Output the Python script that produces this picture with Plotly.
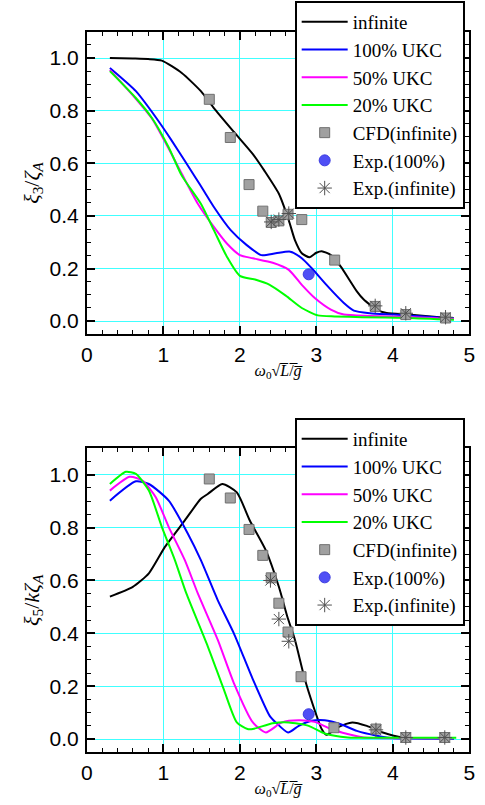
import plotly.graph_objects as go

# ---------------- data: heave (top) ----------------
heave_inf_x = [0.3, 0.6, 0.8, 0.98, 1.24, 1.49, 1.66, 1.92, 2.17, 2.32, 2.51, 2.64, 2.72, 2.81, 2.91, 3.0, 3.07, 3.19, 3.32, 3.53, 3.62, 3.79, 3.92, 4.2, 4.5, 4.8]
heave_inf_y = [1.0, 0.998, 0.996, 0.99, 0.943, 0.874, 0.81, 0.72, 0.635, 0.572, 0.484, 0.383, 0.308, 0.258, 0.243, 0.26, 0.266, 0.251, 0.207, 0.113, 0.082, 0.044, 0.031, 0.025, 0.018, 0.01]
heave_100_x = [0.3, 0.64, 0.9, 1.1, 1.3, 1.41, 1.54, 1.66, 1.88, 2.09, 2.28, 2.47, 2.66, 2.81, 2.94, 3.15, 3.36, 3.49, 3.7, 4.0, 4.4, 4.8]
heave_100_y = [0.962, 0.874, 0.775, 0.69, 0.6, 0.55, 0.49, 0.434, 0.346, 0.289, 0.251, 0.258, 0.264, 0.239, 0.201, 0.132, 0.069, 0.04, 0.03, 0.025, 0.018, 0.01]
heave_50_x = [0.3, 0.64, 0.85, 1.07, 1.24, 1.45, 1.66, 1.83, 2.0, 2.17, 2.43, 2.64, 2.81, 2.98, 3.19, 3.36, 3.7, 4.2, 4.8]
heave_50_y = [0.955, 0.845, 0.77, 0.655, 0.56, 0.446, 0.358, 0.295, 0.251, 0.239, 0.222, 0.195, 0.138, 0.088, 0.044, 0.025, 0.02, 0.016, 0.008]
heave_20_x = [0.3, 0.64, 0.85, 1.07, 1.24, 1.49, 1.66, 1.83, 2.0, 2.21, 2.39, 2.6, 2.81, 3.02, 3.24, 3.6, 4.2, 4.8]
heave_20_y = [0.95, 0.848, 0.772, 0.66, 0.553, 0.446, 0.346, 0.245, 0.172, 0.157, 0.138, 0.097, 0.05, 0.022, 0.018, 0.015, 0.012, 0.005]
heave_cfd_x = [1.6, 1.875, 2.12, 2.3, 2.41, 2.51, 2.63, 2.81, 3.24, 3.77, 4.17, 4.69]
heave_cfd_y = [0.843, 0.698, 0.519, 0.418, 0.375, 0.381, 0.406, 0.386, 0.232, 0.056, 0.025, 0.012]
heave_exp100_x = [2.9]
heave_exp100_y = [0.178]
heave_expinf_x = [2.41, 2.51, 2.64, 3.77, 4.17, 4.69]
heave_expinf_y = [0.377, 0.386, 0.409, 0.058, 0.03, 0.015]

# ---------------- data: pitch (bottom) ----------------
pitch_inf_x = [0.3, 0.6, 0.81, 1.02, 1.28, 1.49, 1.58, 1.77, 1.96, 2.13, 2.34, 2.51, 2.62, 2.72, 2.85, 2.96, 3.07, 3.13, 3.28, 3.47, 3.66, 3.87, 4.13, 4.5, 4.8]
pitch_inf_y = [0.539, 0.576, 0.627, 0.727, 0.827, 0.909, 0.927, 0.965, 0.933, 0.827, 0.714, 0.576, 0.464, 0.376, 0.226, 0.125, 0.038, 0.016, 0.044, 0.063, 0.05, 0.025, 0.006, 0.003, 0.002]
pitch_100_x = [0.3, 0.64, 0.81, 1.07, 1.32, 1.49, 1.71, 1.92, 2.17, 2.39, 2.47, 2.63, 2.77, 2.94, 3.11, 3.32, 3.53, 3.79, 4.03, 4.4, 4.8]
pitch_100_y = [0.902, 0.975, 0.965, 0.902, 0.777, 0.677, 0.526, 0.401, 0.226, 0.088, 0.063, 0.025, 0.05, 0.069, 0.071, 0.056, 0.031, 0.013, 0.003, 0.002, 0.002]
pitch_50_x = [0.3, 0.56, 0.73, 0.9, 1.07, 1.28, 1.45, 1.71, 1.92, 2.17, 2.34, 2.55, 2.77, 2.98, 3.19, 3.41, 3.62, 4.0, 4.8]
pitch_50_y = [0.94, 0.992, 0.977, 0.915, 0.802, 0.677, 0.551, 0.376, 0.213, 0.063, 0.025, 0.063, 0.071, 0.065, 0.038, 0.019, 0.006, 0.003, 0.003]
pitch_20_x = [0.3, 0.51, 0.64, 0.81, 0.98, 1.15, 1.3, 1.58, 1.79, 1.96, 2.1, 2.17, 2.43, 2.64, 2.9, 3.11, 3.41, 4.0, 4.83]
pitch_20_y = [0.965, 1.011, 1.003, 0.94, 0.802, 0.677, 0.551, 0.351, 0.188, 0.063, 0.038, 0.038, 0.06, 0.063, 0.05, 0.021, 0.006, 0.005, 0.005]
pitch_cfd_x = [1.6, 1.875, 2.12, 2.3, 2.41, 2.51, 2.63, 2.8, 3.23, 3.78, 4.17, 4.68]
pitch_cfd_y = [0.984, 0.912, 0.793, 0.695, 0.61, 0.514, 0.405, 0.236, 0.043, 0.038, 0.006, 0.006]
pitch_exp100_x = [2.9]
pitch_exp100_y = [0.094]
pitch_expinf_x = [2.4, 2.51, 2.64, 3.78, 4.17, 4.68]
pitch_expinf_y = [0.60, 0.454, 0.37, 0.035, 0.006, 0.006]

names = ["infinite", "100% UKC", "50% UKC", "20% UKC", "CFD(infinite)", "Exp.(100%)", "Exp.(infinite)"]
x_ticks = [0, 1, 2, 3, 4, 5]
y_ticks = [0.0, 0.2, 0.4, 0.6, 0.8, 1.0]

line_colors = ["#000000", "#0000ff", "#ff00ff", "#00ff00"]

fig = go.Figure()


def add_panel(xa, ya, leg, lines, cfd, exp100, expinf):
    for (lx, ly), name, col in zip(lines, names[:4], line_colors):
        fig.add_trace(go.Scatter(x=lx, y=ly, mode="lines", name=name,
                                 line=dict(color=col, width=2, shape="spline", smoothing=0.6),
                                 xaxis=xa, yaxis=ya, legend=leg))
    fig.add_trace(go.Scatter(x=cfd[0], y=cfd[1], mode="markers", name=names[4],
                             marker=dict(symbol="square", size=10, color="#a0a0a0",
                                         line=dict(color="#707070", width=1)),
                             xaxis=xa, yaxis=ya, legend=leg))
    fig.add_trace(go.Scatter(x=exp100[0], y=exp100[1], mode="markers", name=names[5],
                             marker=dict(symbol="circle", size=11, color="#4f4ff5",
                                         line=dict(color="#3c3ce0", width=1)),
                             xaxis=xa, yaxis=ya, legend=leg))
    fig.add_trace(go.Scatter(x=expinf[0], y=expinf[1], mode="markers", name=names[6],
                             marker=dict(symbol="asterisk-open", size=12, color="#505050",
                                         line=dict(color="#505050", width=1)),
                             xaxis=xa, yaxis=ya, legend=leg))


add_panel("x", "y", "legend",
          [(heave_inf_x, heave_inf_y), (heave_100_x, heave_100_y), (heave_50_x, heave_50_y), (heave_20_x, heave_20_y)],
          (heave_cfd_x, heave_cfd_y), (heave_exp100_x, heave_exp100_y), (heave_expinf_x, heave_expinf_y))
add_panel("x2", "y2", "legend2",
          [(pitch_inf_x, pitch_inf_y), (pitch_100_x, pitch_100_y), (pitch_50_x, pitch_50_y), (pitch_20_x, pitch_20_y)],
          (pitch_cfd_x, pitch_cfd_y), (pitch_exp100_x, pitch_exp100_y), (pitch_expinf_x, pitch_expinf_y))

# figure fills the whole page (body margin removed by the post script)
W, H = 485, 805


def fx(px):
    return px / W


def fy(py):
    return 1 - py / H


xdom = [fx(83), fx(475)]
ydom_top = [fy(334.3), fy(31.7)]
ydom_bot = [fy(752.3), fy(448.3)]

tickfont = dict(family="Liberation Sans", size=21, color="#000")
grid = "#40ffff"
xtitle = "<i>ω</i><sub>0</sub>√<i>L\u0305</i>/\u0305<i>g\u0305</i>"

common_x = dict(range=[0, 5], tickvals=x_ticks, ticks="inside", ticklen=8, tickwidth=1.5,
                tickcolor="#000", showline=True, linecolor="#000", linewidth=2, mirror="ticks",
                showgrid=True, gridcolor=grid, gridwidth=1, zeroline=False, tickfont=tickfont,
                minor=dict(dtick=0.2, ticks="inside", ticklen=4, tickcolor="#000", tickwidth=1.2, showgrid=False),
                title=dict(text=xtitle, font=dict(family="Liberation Serif", size=16, color="#000"), standoff=0),
                ticklabelstandoff=0, ticklabeloverflow="allow")
common_y = dict(range=[-0.05, 1.1], tickvals=y_ticks, ticktext=[f"{v:.1f}" for v in y_ticks],
                ticks="inside", ticklen=8, tickwidth=1.5, tickcolor="#000", showline=True,
                linecolor="#000", linewidth=2, mirror="ticks", showgrid=True, gridcolor=grid,
                gridwidth=1, zeroline=False, tickfont=tickfont,
                minor=dict(dtick=0.05, ticks="inside", ticklen=4, tickcolor="#000", tickwidth=1.2, showgrid=False),
                ticklabelstandoff=2)

legend_style = dict(font=dict(family="Liberation Serif", size=19, color="#000"),
                    bgcolor="#ffffff", bordercolor="#000", borderwidth=2, itemwidth=46,
                    xanchor="left", yanchor="top", tracegroupgap=0)

fig.update_layout(
    width=W, height=H, autosize=False,
    margin=dict(l=0, r=0, t=0, b=0),
    paper_bgcolor="#fff", plot_bgcolor="#fff",
    xaxis=dict(common_x, domain=xdom, anchor="y"),
    yaxis=dict(common_y, domain=ydom_top, anchor="x",
               title=dict(text="<i>ξ</i><sub>3</sub>/<i>ζ</i><sub><i>A</i></sub>",
                          font=dict(family="Liberation Serif", size=22, color="#000"), standoff=4)),
    xaxis2=dict(common_x, domain=xdom, anchor="y2"),
    yaxis2=dict(common_y, domain=ydom_bot, anchor="x2",
                title=dict(text="<i>ξ</i><sub>5</sub>/<i>kζ</i><sub><i>A</i></sub>",
                           font=dict(family="Liberation Serif", size=22, color="#000"), standoff=4)),
    legend=dict(legend_style, x=fx(296), y=fy(1)),
    legend2=dict(legend_style, x=fx(296), y=fy(418)),
)

fig.write_html("out.html", config={"displayModeBar": False},
               post_script="document.body.style.margin='0';document.body.style.overflow='hidden';")
